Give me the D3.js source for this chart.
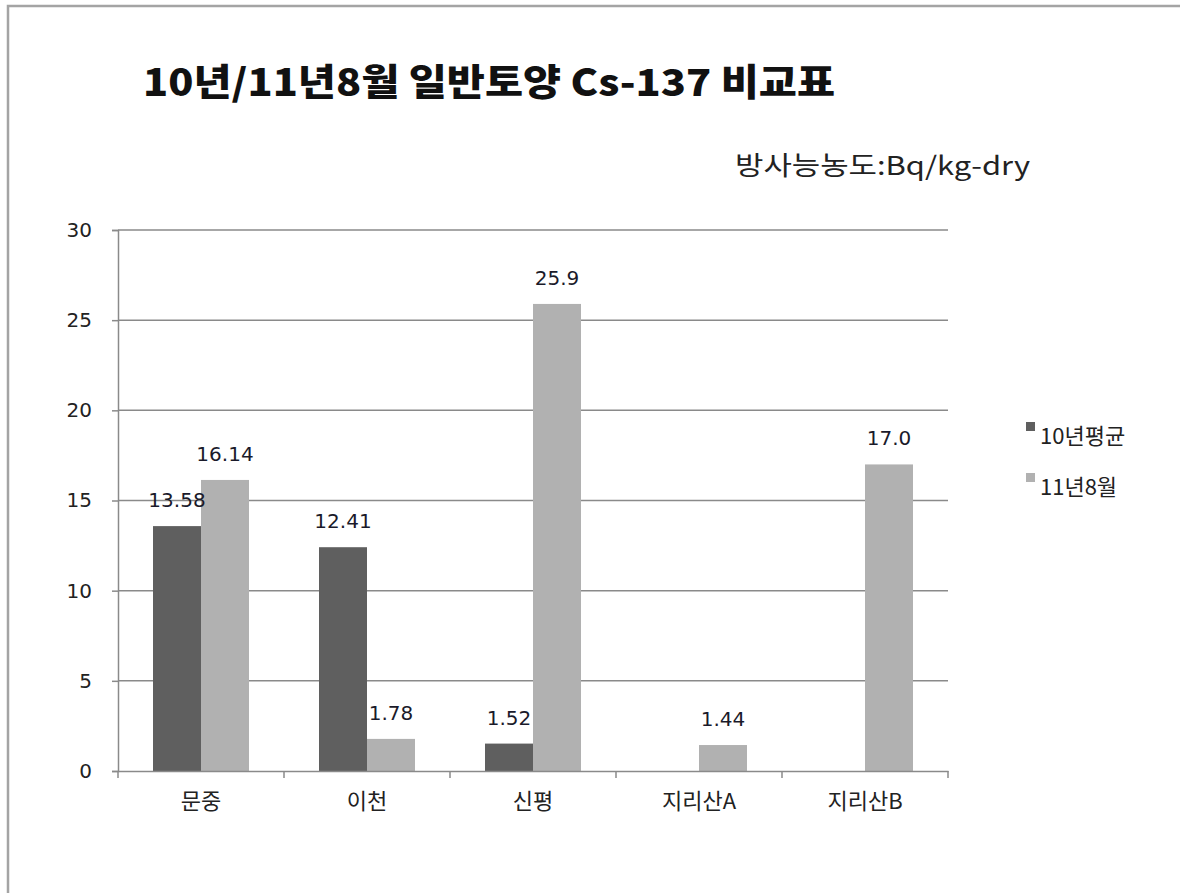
<!DOCTYPE html>
<html>
<head>
<meta charset="utf-8">
<script src="https://cdn.jsdelivr.net/npm/d3@7"></script>
<style>
  html, body { margin: 0; padding: 0; background: #fff; }
  svg { display: block; }
</style>
</head>
<body>
<svg id="chart" width="1180" height="893"></svg>
<script>
const categories = ["문중", "이천", "신평", "지리산A", "지리산B"];
const seriesNames = ["10년평균", "11년8월"];
const avg10 = [13.58, 12.41, 1.52, null, null];
const aug11 = [16.14, 1.78, 25.9, 1.44, 17.0];
const avg10Labels = ["13.58", "12.41", "1.52", "", ""];
const aug11Labels = ["16.14", "1.78", "25.9", "1.44", "17.0"];
const yTicks = [0, 5, 10, 15, 20, 25, 30];
const titleText = "10년/11년8월 일반토양 Cs-137 비교표";
const unitText = "방사능농도:Bq/kg-dry";

(function () {
const colors = ["#5f5f5f", "#b1b1b1"];
const svg = d3.select("#chart");
const kfont = "'Noto Sans CJK KR', 'Noto Sans', sans-serif";
const nfont = "'DejaVu Sans', Verdana, sans-serif";

// frame (top and left edges visible only)
svg.append("path").attr("d", "M8,893 L8,6 L1180,6")
  .attr("fill", "none").attr("stroke", "#a4a4a4").attr("stroke-width", 2.5);

const pL = 118, pR = 948, pT = 230, pB = 771;
const x = d3.scaleBand().domain(categories).range([pL, pR]).paddingInner(0).paddingOuter(0);
const inner = d3.scaleBand().domain(seriesNames).range([35, x.bandwidth() - 35]).padding(0);
const y = d3.scaleLinear().domain([0, 30]).range([pB, pT]);

// gridlines
svg.append("g").selectAll("line").data(yTicks.filter(d => d > 0)).join("line")
  .attr("x1", pL).attr("x2", pR)
  .attr("y1", d => y(d)).attr("y2", d => y(d))
  .attr("stroke", "#8a8a8a").attr("stroke-width", 1.5);

// bars
const data = [avg10, aug11];
const labels = [avg10Labels, aug11Labels];
data.forEach((vals, si) => {
  const g = svg.append("g");
  categories.forEach((c, i) => {
    const v = vals[i];
    if (v == null) return;
    const bx = x(c) + inner(seriesNames[si]);
    g.append("rect")
      .attr("x", bx).attr("y", y(v))
      .attr("width", inner.bandwidth()).attr("height", y(0) - y(v))
      .attr("fill", colors[si]);
  });
});

// axes
const yAxis = d3.axisLeft(y).tickValues(yTicks).tickSize(6).tickPadding(20).tickFormat(d3.format("d"));
const gy = svg.append("g").attr("transform", `translate(${pL},0)`).call(yAxis);
gy.select(".domain").attr("stroke", "#8a8a8a").attr("stroke-width", 1.5);
gy.selectAll(".tick line").attr("stroke", "#8a8a8a").attr("stroke-width", 1.5);
gy.selectAll(".tick text").attr("font-family", nfont).attr("font-size", 20).attr("fill", "#222");

const xAxis = d3.axisBottom(x).tickSize(0).tickPadding(0).tickFormat("");
const gx = svg.append("g").attr("transform", `translate(0,${pB})`).call(xAxis);
gx.select(".domain").attr("stroke", "#8a8a8a").attr("stroke-width", 1.5);
gx.selectAll(".tick").remove();
const bounds = categories.map(c => x(c)).concat([pR]);
gx.selectAll("line.bt").data(bounds).join("line").attr("class", "bt")
  .attr("x1", d => d).attr("x2", d => d).attr("y1", 0).attr("y2", 7)
  .attr("stroke", "#8a8a8a").attr("stroke-width", 1.5);
gx.selectAll("text.cat").data(categories).join("text").attr("class", "cat")
  .attr("x", d => x(d) + x.bandwidth() / 2).attr("y", 38)
  .attr("text-anchor", "middle").attr("font-family", kfont).attr("font-size", 22)
  .attr("fill", "#222").text(d => d);

// data labels
data.forEach((vals, si) => {
  categories.forEach((c, i) => {
    const v = vals[i];
    if (v == null) return;
    const cx = x(c) + inner(seriesNames[si]) + inner.bandwidth() / 2;
    svg.append("text").attr("x", cx).attr("y", y(v) - 19)
      .attr("text-anchor", "middle").attr("font-family", nfont).attr("font-size", 20)
      .attr("fill", "#1a1a2a").text(labels[si][i]);
  });
});

// title
svg.append("text").attr("x", 143).attr("y", 96)
  .attr("font-family", kfont).attr("font-weight", 900).attr("font-size", 37)
  .attr("fill", "#111").attr("textLength", 692).attr("lengthAdjust", "spacingAndGlyphs")
  .text(titleText);

// unit
svg.append("text").attr("x", 735).attr("y", 175)
  .attr("font-family", kfont).attr("font-size", 26)
  .attr("fill", "#222").attr("textLength", 295).attr("lengthAdjust", "spacingAndGlyphs")
  .text(unitText);

// legend
const lg = svg.append("g").attr("transform", "translate(1026,0)");
seriesNames.forEach((n, i) => {
  const ly = 436 + i * 51;
  lg.append("rect").attr("x", 0).attr("y", ly - 14).attr("width", 9).attr("height", 9).attr("fill", colors[i]);
  lg.append("text").attr("x", 14).attr("y", ly + 8).attr("font-family", kfont).attr("font-size", 22)
    .attr("fill", "#222").text(n);
});
})();
</script>
</body>
</html>
